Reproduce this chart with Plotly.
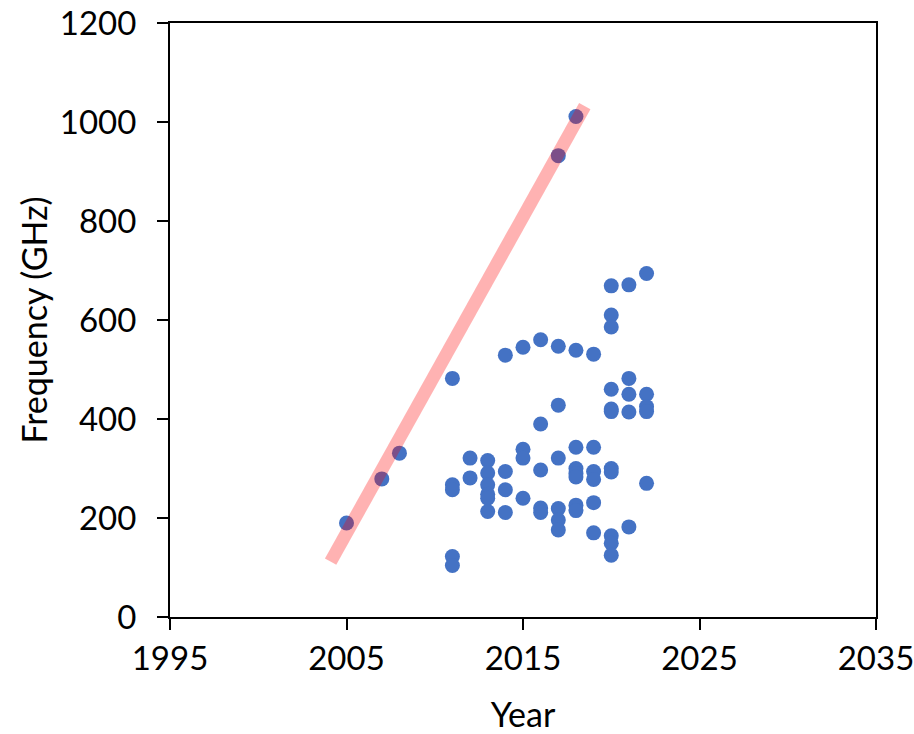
import plotly.graph_objects as go

years = (
    [2005, 2007, 2008]
    + [2011] * 5
    + [2012] * 2
    + [2013] * 6
    + [2014] * 4
    + [2015] * 4
    + [2016] * 5
    + [2017] * 7
    + [2018] * 8
    + [2019] * 6
    + [2020] * 11
    + [2021] * 5
    + [2022] * 5
)
freq_ghz = (
    [190, 279, 331]
    + [482, 267, 257, 122, 104]
    + [321, 281]
    + [316, 291, 267, 248, 240, 213]
    + [529, 294, 257, 211]
    + [545, 339, 321, 240]
    + [560, 390, 297, 220, 211]
    + [932, 547, 428, 321, 219, 196, 176]
    + [1011, 539, 343, 300, 290, 283, 226, 215]
    + [531, 343, 294, 278, 231, 170]
    + [669, 610, 586, 460, 420, 415, 300, 293, 164, 149, 125]
    + [671, 482, 450, 414, 182]
    + [694, 450, 425, 415, 270]
)

trend_years = [2004.1, 2018.5]
trend_freq = [112, 1032]

font_family = "Lato, 'Open Sans', sans-serif"

fig = go.Figure()
fig.add_trace(go.Scatter(
    x=years, y=freq_ghz, mode="markers",
    marker=dict(size=15, color="#4472C4", line=dict(width=0)),
    showlegend=False,
))
fig.add_trace(go.Scatter(
    x=trend_years, y=trend_freq, mode="lines",
    line=dict(color="rgba(255,0,0,0.3)", width=13),
    showlegend=False,
))

fig.update_layout(
    width=914, height=734,
    margin=dict(l=170, r=38, t=23, b=117),
    paper_bgcolor="white", plot_bgcolor="white",
    font=dict(family=font_family, size=33, color="black"),
)
fig.update_xaxes(
    range=[1995, 2035], tickvals=[1995, 2005, 2015, 2025, 2035],
    showgrid=False, zeroline=False, automargin=False,
    ticklabeloverflow="allow",
    showline=True, linecolor="black", linewidth=2, mirror=True,
    ticks="outside", ticklen=11, tickwidth=2, tickcolor="black",
    title=dict(text="Year", font=dict(size=34), standoff=28),
)
fig.update_yaxes(
    range=[0, 1200], tickvals=[0, 200, 400, 600, 800, 1000, 1200],
    showgrid=False, zeroline=False, automargin=False,
    ticklabeloverflow="allow", ticklabelstandoff=14,
    showline=True, linecolor="black", linewidth=2, mirror=True,
    ticks="outside", ticklen=11, tickwidth=2, tickcolor="black",
    title=dict(text="Frequency (GHz)", font=dict(size=34), standoff=2),
)

fig.write_html("out.html")
